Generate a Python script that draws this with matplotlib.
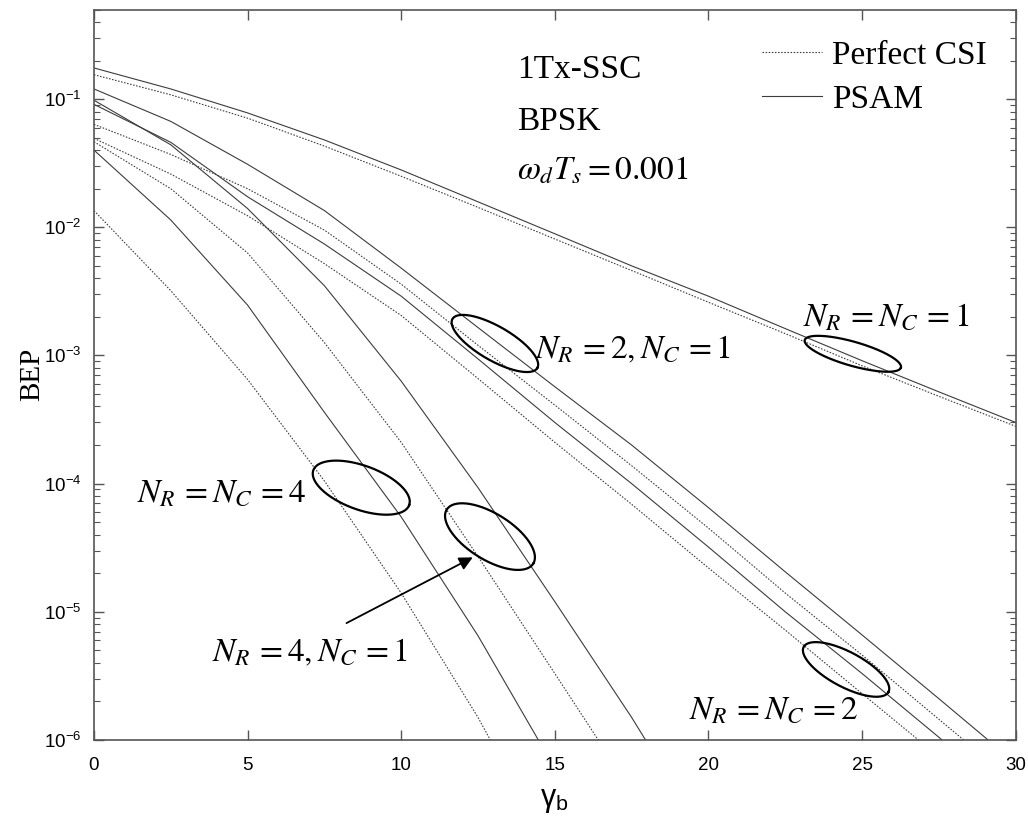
import numpy as np
import matplotlib.pyplot as plt
from matplotlib.lines import Line2D
from matplotlib.ticker import NullLocator

plt.rcParams['font.family'] = 'Liberation Sans'
plt.rcParams['mathtext.fontset'] = 'stix'

# -------------------------
# Data (BEP vs gamma_b in dB, step 2.5 dB)
# -------------------------
snr_db = [0, 2.5, 5, 7.5, 10, 12.5, 15, 17.5, 20, 22.5, 25, 27.5, 30]

nr1_perfect = [0.155, 0.108, 0.071, 0.043, 0.025, 0.0143, 0.0081, 0.0046,
               0.0026, 0.00148, 0.00083, 0.00048, 0.00028]
nr1_psam = [0.175, 0.12, 0.078, 0.048, 0.028, 0.0158, 0.0089, 0.0050,
            0.0029, 0.00162, 0.00091, 0.00052, 0.0003]

nr2nc1_perfect = [0.0635, 0.037, 0.020, 9.5e-3, 3.6e-3, 1.2e-3, 4.1e-4, 1.38e-4,
                  4.5e-5, 1.4e-5, 4.6e-6, 1.45e-6, 4.6e-7]
nr2nc1_psam = [0.120, 0.067, 0.031, 0.0135, 4.8e-3, 1.65e-3, 5.7e-4, 2.0e-4,
               6.5e-5, 2.05e-5, 6.6e-6, 2.1e-6, 6.6e-7]

nr2nc2_perfect = [0.0494, 0.026, 0.0123, 5.2e-3, 2.05e-3, 6.6e-4, 2.1e-4, 6.9e-5,
                  2.2e-5, 7.2e-6, 2.3e-6, 7.4e-7]
nr2nc2_psam = [0.091, 0.046, 0.0173, 7.4e-3, 2.9e-3, 9.4e-4, 3.0e-4, 1.0e-4,
               3.2e-5, 1.0e-5, 3.3e-6, 1.05e-6, 3.3e-7]

nr4nc1_perfect = [0.0465, 0.020, 6.3e-3, 1.26e-3, 2.1e-4, 2.7e-5, 3.3e-6, 4e-7]
nr4nc1_psam = [0.098, 0.044, 0.014, 3.5e-3, 6.3e-4, 9.3e-5, 1.2e-5, 1.5e-6, 1.6e-7]

nr4nc4_perfect = [0.0135, 3.2e-3, 6.5e-4, 1.05e-4, 1.4e-5, 1.5e-6, 1.2e-7]
nr4nc4_psam = [0.040, 0.0114, 2.47e-3, 3.6e-4, 5.5e-5, 6.5e-6, 6e-7]

perfect_curves = [nr1_perfect, nr2nc1_perfect, nr2nc2_perfect, nr4nc1_perfect, nr4nc4_perfect]
psam_curves = [nr1_psam, nr2nc1_psam, nr2nc2_psam, nr4nc1_psam, nr4nc4_psam]

# ellipse marks: centre (gamma_b, BEP), semi axes in px, tilt in degrees (downward)
ellipses = [
    (13.05, 1.24e-3, 49, 17, 30),
    (24.70, 1.03e-3, 50, 12, 16),
    (8.70, 9.3e-5, 51, 22, 20),
    (12.89, 3.86e-5, 51, 23, 32),
    (24.48, 3.55e-6, 48, 17.5, 28),
]

# -------------------------
# Plot
# -------------------------
fig = plt.figure(figsize=(10.28, 8.19), dpi=100)
ax = fig.add_axes([0.0914, 0.0965, 0.8966, 0.8919])

dotted = (0, (1.4, 1.4))
for ys in perfect_curves:
    ax.plot(snr_db[:len(ys)], ys, color='#3c3c3c', lw=0.8, ls=dotted)
for ys in psam_curves:
    ax.plot(snr_db[:len(ys)], ys, color='#3c3c3c', lw=0.8, ls='-')

ax.set_yscale('log')
ax.set_xlim(0, 30)
ax.set_ylim(1e-6, 0.5)
ax.set_xticks(range(0, 31, 5))
ax.xaxis.set_minor_locator(NullLocator())
ax.tick_params(which='both', direction='in', top=True, right=True,
               labelsize=13.5, color='#555555')
ax.tick_params(which='major', length=7, width=1)
ax.tick_params(which='minor', length=4, width=0.8)
ax.tick_params(axis='x', pad=12)
ax.tick_params(axis='y', pad=9)
for sp in ax.spines.values():
    sp.set_color('#555555')
    sp.set_linewidth(1.2)

ax.set_ylabel('BEP', family='Liberation Serif', fontsize=21, labelpad=-1)
ax.set_xlabel(r'γ$_\mathregular{b}$', fontsize=22, labelpad=8)

# legend
handles = [Line2D([], [], color='#3c3c3c', lw=0.8, ls=dotted),
           Line2D([], [], color='#3c3c3c', lw=0.8, ls='-')]
ax.legend(handles, ['Perfect CSI', 'PSAM'], loc='upper right',
          bbox_to_anchor=(0.9685, 0.958), frameon=False,
          prop={'family': 'Liberation Serif', 'size': 24},
          handlelength=1.8, handletextpad=0.3, labelspacing=0.4,
          borderaxespad=0, borderpad=0)

# annotations
serif = dict(family='Liberation Serif', size=24, transform=ax.transAxes)
ax.text(0.459, 0.906, '1Tx-SSC', va='baseline', **serif)
ax.text(0.459, 0.835, 'BPSK', va='baseline', **serif)
ax.text(0.459, 0.767, r'$\omega_d T_s = 0.001$', va='baseline', **serif)
ax.text(0.478, 0.524, r'$N_R\, = 2, N_C\, = 1$', va='baseline', **serif)
ax.text(0.769, 0.568, r'$N_R\, = N_C\, = 1$', va='baseline', **serif)
ax.text(0.0466, 0.326, r'$N_R\, = N_C\, = 4$', va='baseline', **serif)
ax.text(0.128, 0.1095, r'$N_R\, = 4, N_C\, = 1$', va='baseline', **serif)
ax.text(0.646, 0.030, r'$N_R\, = N_C\, = 2$', va='baseline', **serif)

ax.annotate('', xy=(0.411, 0.250), xytext=(0.274, 0.160),
            xycoords='axes fraction', textcoords='axes fraction',
            arrowprops=dict(arrowstyle='-|>', color='black', lw=1.3,
                            mutation_scale=20, shrinkA=0, shrinkB=0))

# ellipses drawn in pixel space around the data-space centre
scale = fig.dpi / 100.0
t = np.linspace(0, 2 * np.pi, 200)
inv = ax.transData.inverted()
for cx, cy, a, b, ang in ellipses:
    px, py = ax.transData.transform((cx, cy))
    th = np.deg2rad(-ang)
    ex = a * np.cos(t) * scale
    ey = b * np.sin(t) * scale
    xs = px + ex * np.cos(th) - ey * np.sin(th)
    ys = py + ex * np.sin(th) + ey * np.cos(th)
    pts = inv.transform(np.column_stack([xs, ys]))
    ax.plot(pts[:, 0], pts[:, 1], color='black', lw=1.6)

fig.savefig('out.png', dpi=100)
